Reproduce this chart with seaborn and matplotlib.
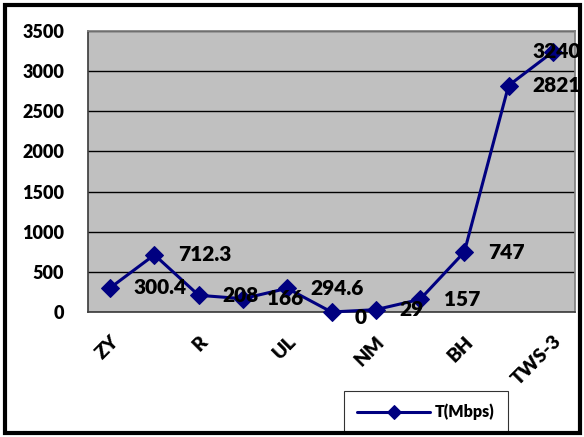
import matplotlib
matplotlib.use("Agg")
import matplotlib.pyplot as plt
import seaborn as sns
import pandas as pd
from matplotlib.patches import Rectangle

# data (only every other category label is shown)
categories = ["ZY", "", "R", "", "UL", "", "NM", "", "BH", "", "TWS-3"]
throughput = [300.4, 712.3, 208, 166, 294.6, 0, 29, 157, 747, 2821, 3240]
series_name = "T(Mbps)"

df = pd.DataFrame({"pos": range(len(throughput)), "val": throughput})

sns.set_theme(style="white")
plt.rcParams["font.family"] = ["Lato", "DejaVu Sans"]
plt.rcParams["font.weight"] = "heavy"
plt.rcParams["text.color"] = "black"
plt.rcParams["xtick.color"] = "black"
plt.rcParams["ytick.color"] = "black"

W = "heavy"

fig = plt.figure(figsize=(5.84, 4.37), dpi=100)
ax = fig.add_axes([88 / 584, 1 - 312 / 437, (575 - 88) / 584, (312 - 31) / 437])
ax.set_facecolor("#C0C0C0")

navy = "#000080"
sns.lineplot(data=df, x="pos", y="val", ax=ax, color=navy, linewidth=2.2,
             marker="D", markersize=9, markeredgecolor=navy, label=series_name,
             clip_on=False, zorder=5)

ax.set_xlim(-0.5, len(throughput) - 0.5)
ax.set_ylim(0, 3500)
ax.set_yticks(range(0, 3501, 500))
ax.yaxis.grid(True, color="black", linewidth=1)
ax.set_axisbelow(True)

# category labels on every other slot, tick marks on the boundaries
ax.set_xticks(range(0, len(categories), 2))
ax.set_xticklabels([categories[i] for i in range(0, len(categories), 2)],
                   rotation=45, ha="right", rotation_mode="anchor",
                   fontsize=14, fontweight=W, color="black")
ax.set_xticks([i - 0.5 for i in range(len(categories) + 1)], minor=True)
ax.tick_params(axis="x", which="major", length=0, pad=15)
ax.tick_params(axis="x", which="minor", length=7, color="#404040", width=1, direction="out")
ax.tick_params(axis="y", length=7, color="#404040", width=1, direction="out",
               labelsize=13, pad=10, labelcolor="black")
for t in ax.get_yticklabels():
    t.set_fontweight(W)
ax.set_xlabel("")
ax.set_ylabel("")

for side in ["top", "right"]:
    ax.spines[side].set_color("#808080")
ax.spines["left"].set_color("#404040")
ax.spines["bottom"].set_color("#404040")

# data labels to the right of each point
last = len(throughput) - 1
for i, v in enumerate(throughput):
    label = f"{v:g}"
    if i == last:
        ax.annotate(label, (i, v), xytext=(20, 0), textcoords="offset points",
                    ha="right", va="center", fontsize=15, fontweight=W,
                    color="black", zorder=6)
    else:
        dy = -4 if v == 0 else 0
        ax.annotate(label, (i, v), xytext=(17, dy), textcoords="offset points",
                    ha="left", va="center", fontsize=15, fontweight=W,
                    color="black", zorder=6, annotation_clip=False)

leg = ax.legend(loc="lower left", bbox_to_anchor=(344 / 584, 4 / 437),
                bbox_transform=fig.transFigure, borderaxespad=0,
                frameon=True, fancybox=False,
                fontsize=11.5, handlelength=4.6, borderpad=0.8,
                handletextpad=0.3, markerscale=0.8)
leg.get_frame().set_edgecolor("black")
leg.get_frame().set_linewidth(0.8)
for t in leg.get_texts():
    t.set_fontweight(W)

fig.patches.append(Rectangle((5 / 584, 4 / 437), 575 / 584, 428 / 437,
                             transform=fig.transFigure, fill=False,
                             edgecolor="black", linewidth=3))

fig.savefig("out.png", dpi=100)
